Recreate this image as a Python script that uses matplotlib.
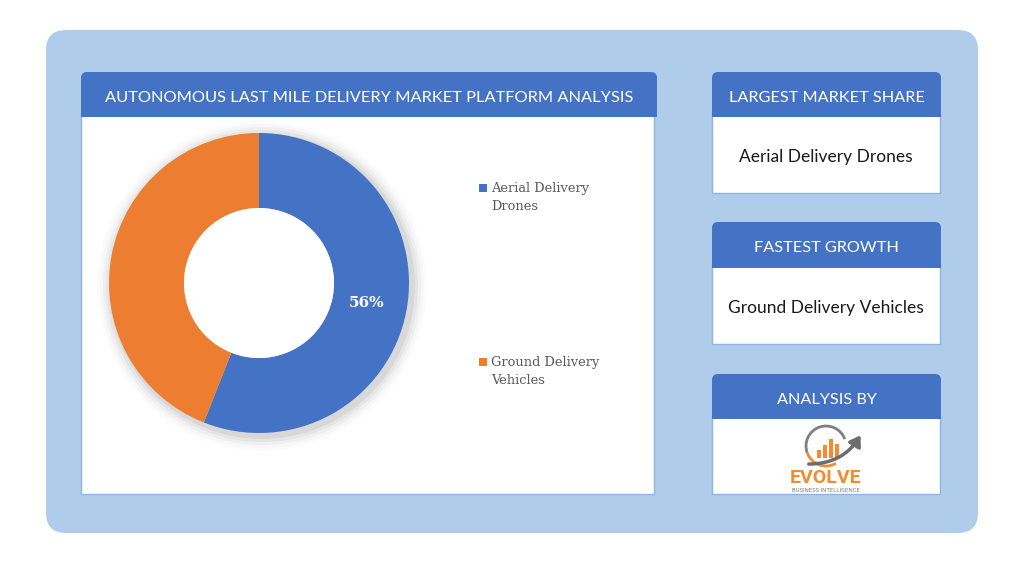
import matplotlib
matplotlib.use("Agg")
import matplotlib.pyplot as plt
from matplotlib.patches import FancyBboxPatch, Rectangle, Circle, Arc, FancyArrowPatch

# data
segments = ["Aerial Delivery Drones", "Ground Delivery Vehicles"]
shares = [56, 44]
seg_colors = ["#4472C4", "#ED7D31"]
title = "AUTONOMOUS LAST MILE DELIVERY MARKET PLATFORM ANALYSIS"
side_titles = ["LARGEST MARKET SHARE", "FASTEST GROWTH", "ANALYSIS BY"]
side_values = ["Aerial Delivery Drones", "Ground Delivery Vehicles", None]

W, H = 1024, 576
BLUE = "#4472C4"
PANEL = "#AFCDEA"
EDGE = "#8DB4E2"
HEAD_FONT = ["Lato", "DejaVu Sans"]

fig = plt.figure(figsize=(W / 100, H / 100), dpi=100)
fig.patch.set_facecolor("white")
bg = fig.add_axes([0, 0, 1, 1])
bg.set_xlim(0, W)
bg.set_ylim(0, H)
bg.axis("off")


def Y(y):
    # picture rows count from the top
    return H - y


def header(x0, x1, y0, y1, text, size):
    r = 6
    bg.add_patch(FancyBboxPatch((x0, Y(y1)), x1 - x0, y1 - y0,
                                boxstyle=f"round,pad=0,rounding_size={r}",
                                fc=BLUE, ec="none", zorder=3))
    # square off the bottom corners
    bg.add_patch(Rectangle((x0, Y(y1)), x1 - x0, r + 1, fc=BLUE, ec="none", zorder=3))
    bg.text((x0 + x1) / 2, Y((y0 + y1) / 2 + 3), text, color="white", fontsize=size,
            ha="center", va="center", family=HEAD_FONT, zorder=4)


def body(x0, x1, y0, y1):
    bg.add_patch(Rectangle((x0, Y(y1)), x1 - x0, y1 - y0, fc="white",
                           ec=EDGE, lw=1, zorder=2))


# outer panel
bg.add_patch(FancyBboxPatch((46, Y(533)), 932, 503,
                            boxstyle="round,pad=0,rounding_size=20",
                            fc=PANEL, ec="none", zorder=1))

# left chart panel
body(81, 654, 112, 494)
header(81, 657, 72, 117, title, 11.8)

# right info boxes
side_rows = [(72, 117, 193), (222, 268, 344), (374, 419, 494)]
for (h0, h1, b1), t, v in zip(side_rows, side_titles, side_values):
    body(712, 940, h1 - 4, b1)
    header(712, 941, h0, h1, t, 11.7)
    if v:
        bg.text(826, Y((h1 + b1) / 2 + 2), v, fontsize=12.5, color="#1a1a1a",
                ha="center", va="center", family=HEAD_FONT, zorder=4)

# logo (rough)
lc = (826, Y(446))
bg.add_patch(Arc(lc, 40, 40, theta1=20, theta2=200, color="#7f7f7f", lw=2, zorder=5))
bg.add_patch(Arc(lc, 40, 40, theta1=200, theta2=300, color="#F58A2E", lw=2, zorder=5))
for dx, h in zip([-7, -1, 5, 11], [8, 13, 19, 14]):
    bg.add_patch(Rectangle((lc[0] + dx - 2, Y(458)), 3.5, h, fc="#F58A2E", ec="none", zorder=5))
bg.add_patch(FancyArrowPatch((806, Y(464)), (862, Y(433)), connectionstyle="arc3,rad=0.3",
                             arrowstyle="-|>,head_length=6,head_width=4", color="#6d6d6d",
                             lw=2.5, zorder=6))
bg.text(826, Y(478), "EVOLVE", color="#F58A2E", fontsize=14, fontweight="bold",
        ha="center", va="center", family=["Roboto", "DejaVu Sans"], zorder=5)
bg.text(826, Y(490), "BUSINESS INTELLIGENCE", color="#7f7f7f", fontsize=4.2,
        ha="center", va="center", family=["Roboto", "DejaVu Sans"], zorder=5)

# donut
cx, cy, R = 259, 283, 150
pad = 1.25
ax = fig.add_axes([(cx - R * pad) / W, (H - cy - R * pad) / H, 2 * R * pad / W, 2 * R * pad / H])
ax.set_zorder(5)
# soft shadow
for i, a in enumerate([0.05, 0.04, 0.03, 0.02, 0.012]):
    ax.add_patch(Circle((0.02, -0.02), 1.0 + 0.02 * (i + 1), fc="#000000", alpha=a, ec="none"))
wedges, _ = ax.pie(shares, colors=seg_colors, startangle=90, counterclock=False,
                   radius=1.0, wedgeprops=dict(width=0.5, edgecolor="none"), frame=True)
ax.add_patch(Circle((0, 0), 0.5, fc="white", ec="none", zorder=3))
ax.set_xlim(-pad, pad)
ax.set_ylim(-pad, pad)
ax.set_aspect("equal")
ax.axis("off")
ax.text((367 - cx) / R, (cy - 303) / R, f"{shares[0]}%", color="white", fontsize=11,
        fontweight="bold", ha="center", va="center", family="DejaVu Serif", zorder=4)

# legend
for (ly, name), col in zip([(188, segments[0]), (362, segments[1])], seg_colors):
    bg.add_patch(Rectangle((479, Y(ly) - 4), 8, 8, fc=col, ec="none", zorder=4))
    first, rest = name.rsplit(" ", 1)
    bg.text(491, Y(ly - 6), first + "\n" + rest, color="#595959", fontsize=9.4,
            ha="left", va="top", family="DejaVu Serif", linespacing=1.5,
            zorder=4)

fig.savefig("out.png", dpi=100)
